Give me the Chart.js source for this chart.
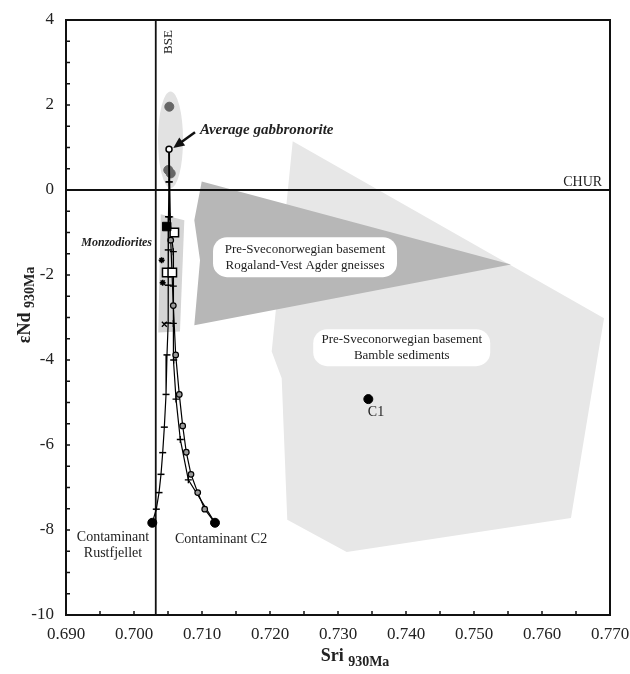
<!DOCTYPE html>
<html>
<head>
<meta charset="utf-8">
<script src="https://cdn.jsdelivr.net/npm/chart.js@4.4.0/dist/chart.umd.min.js"></script>
<style>
html, body { margin: 0; padding: 0; background: #fff; }
</style>
</head>
<body>
<canvas id="chart" width="630" height="674"></canvas>
<script>
'use strict';

// axis ticks
var xTicks = [0.690, 0.700, 0.710, 0.720, 0.730, 0.740, 0.750, 0.760, 0.770];
var yTicks = [-10, -8, -6, -4, -2, 0, 2, 4];

// reference lines
var churNd = 0;
var bseSr = 0.7032;

// mixing curve towards contaminant Rustfjellet
var rustSr = [0.70515, 0.70515, 0.70507, 0.70504, 0.70504, 0.70500, 0.70485, 0.70471, 0.70446, 0.70422, 0.70397, 0.70368, 0.70328, 0.70269];
var rustNd = [0.96, 0.19, -0.63, -1.41, -2.24, -3.13, -3.88, -4.81, -5.58, -6.18, -6.69, -7.12, -7.51, -7.83];

// mixing curves towards contaminant C2
var c2CircSr = [0.70515, 0.70540, 0.70578, 0.70613, 0.70666, 0.70716, 0.70769, 0.70838, 0.70937, 0.71040, 0.71191];
var c2CircNd = [0.96, -1.18, -2.72, -3.88, -4.81, -5.55, -6.17, -6.69, -7.12, -7.51, -7.83];
var c2CrossSr = [0.70515, 0.70518, 0.70525, 0.70578, 0.70578, 0.70578, 0.70584, 0.70618, 0.70681, 0.70799, 0.71191];
var c2CrossNd = [0.96, 0.19, -0.63, -1.45, -2.26, -3.14, -4.00, -4.92, -5.87, -6.82, -7.83];

// samples
var gabbroSr = [0.70519, 0.70504, 0.70540];
var gabbroNd = [1.96, 0.47, 0.39];
var avgGabbroSr = [0.70515];
var avgGabbroNd = [0.96];
var monzoFilledSr = [0.70481];
var monzoFilledNd = [-0.86];
var monzoOpenSr = [0.70593, 0.70481, 0.70563];
var monzoOpenNd = [-1.00, -1.94, -1.94];
var monzoStarSr = [0.70407, 0.70422];
var monzoStarNd = [-1.65, -2.18];
var monzoXSr = [0.70446];
var monzoXNd = [-3.16];

// contaminants
var contamSr = [0.70269, 0.71191, 0.73446];
var contamNd = [-7.83, -7.83, -4.92];

// fields
var bambleSr = [0.72334, 0.76912, 0.76426, 0.73128, 0.72254, 0.72172, 0.72025, 0.72334];
var bambleNd = [1.15, -3.02, -7.72, -8.52, -7.76, -4.43, -3.80, 1.15];
var rogalandSr = [0.70996, 0.75544, 0.70887, 0.70971, 0.70887, 0.70996];
var rogalandNd = [0.20, -1.75, -3.18, -1.65, -0.71, 0.20];
var monzoFieldSr = [0.70393, 0.70740, 0.70676, 0.70357, 0.70393];
var monzoFieldNd = [-0.57, -0.71, -3.33, -3.35, -0.57];
var gabbroFieldSr = 0.70537, gabbroFieldNd = 1.18, gabbroFieldRSr = 0.00184, gabbroFieldRNd = 1.14;

function pts(xs, ys) {
    return xs.map(function(x, i) { return { x: x, y: ys[i] }; });
}

var SERIF = '"Liberation Serif", "Times New Roman", serif';
Chart.defaults.font.family = SERIF;
Chart.defaults.color = '#222';

function endsHidden(r) {
    return function(ctx) {
        var n = ctx.dataset.data.length;
        return (ctx.dataIndex === 0 || ctx.dataIndex === n - 1) ? 0 : r;
    };
}

function roundRect(ctx, x, y, w, h, r) {
    ctx.beginPath();
    ctx.moveTo(x + r, y);
    ctx.lineTo(x + w - r, y);
    ctx.arcTo(x + w, y, x + w, y + r, r);
    ctx.lineTo(x + w, y + h - r);
    ctx.arcTo(x + w, y + h, x + w - r, y + h, r);
    ctx.lineTo(x + r, y + h);
    ctx.arcTo(x, y + h, x, y + h - r, r);
    ctx.lineTo(x, y + r);
    ctx.arcTo(x, y, x + r, y, r);
    ctx.closePath();
}

var overlay = {
    id: 'overlay',
    beforeDatasetsDraw: function(chart) {
        var sx = chart.scales.x, sy = chart.scales.y, ctx = chart.ctx;
        var cx = sx.getPixelForValue(gabbroFieldSr), cy = sy.getPixelForValue(gabbroFieldNd);
        var rx = Math.abs(sx.getPixelForValue(gabbroFieldSr + gabbroFieldRSr) - cx);
        var ry = Math.abs(sy.getPixelForValue(gabbroFieldNd + gabbroFieldRNd) - cy);
        ctx.save();
        ctx.fillStyle = '#e2e2e2';
        ctx.beginPath();
        ctx.ellipse(cx, cy, rx, ry, 0, 0, Math.PI * 2);
        ctx.fill();
        ctx.restore();
    },
    afterDatasetsDraw: function(chart) {
        var sx = chart.scales.x, sy = chart.scales.y, ctx = chart.ctx;
        var a = chart.chartArea;
        var px = function(v) { return sx.getPixelForValue(v); };
        var py = function(v) { return sy.getPixelForValue(v); };
        ctx.save();

        // frame
        ctx.strokeStyle = '#111';
        ctx.lineWidth = 2;
        ctx.strokeRect(a.left, a.top, a.right - a.left, a.bottom - a.top);

        // inward minor ticks
        ctx.lineWidth = 1.5;
        ctx.beginPath();
        for (var i = 1; i < 16; i++) {
            var tx = px(0.690 + i * 0.005);
            ctx.moveTo(tx, a.bottom); ctx.lineTo(tx, a.bottom - 4);
        }
        for (var j = 1; j < 28; j++) {
            var ty = py(-10 + j * 0.5);
            ctx.moveTo(a.left, ty); ctx.lineTo(a.left + 4, ty);
        }
        ctx.stroke();

        // field labels in rounded white boxes
        ctx.font = '13px ' + SERIF;
        ctx.textAlign = 'center';
        ctx.textBaseline = 'middle';
        [
            { sr: 0.72515, nd: -1.58, w: 184, h: 40, lines: ['Pre-Sveconorwegian basement', 'Rogaland-Vest Agder gneisses'] },
            { sr: 0.73937, nd: -3.71, w: 177, h: 37, lines: ['Pre-Sveconorwegian basement', 'Bamble sediments'] }
        ].forEach(function(b) {
            var cx = px(b.sr), cy = py(b.nd);
            ctx.fillStyle = '#fff';
            roundRect(ctx, cx - b.w / 2, cy - b.h / 2, b.w, b.h, 14);
            ctx.fill();
            ctx.fillStyle = '#222';
            ctx.fillText(b.lines[0], cx, cy - 8);
            ctx.fillText(b.lines[1], cx, cy + 8);
        });

        // plain labels
        ctx.font = '14px ' + SERIF;
        ctx.fillText('C1', px(0.73559), py(-5.24));
        ctx.fillText('Contaminant', px(0.69691), py(-8.17));
        ctx.fillText('Rustfjellet', px(0.69691), py(-8.56));
        ctx.textAlign = 'left';
        ctx.fillText('Contaminant C2', px(0.70603), py(-8.22));
        ctx.textAlign = 'right';
        ctx.textBaseline = 'alphabetic';
        ctx.fillText('CHUR', px(0.76885), py(0.1));

        // BSE, vertical
        ctx.save();
        ctx.translate(px(0.70565), py(3.48));
        ctx.rotate(-Math.PI / 2);
        ctx.textAlign = 'center';
        ctx.font = '13px ' + SERIF;
        ctx.fillText('BSE', 0, 0);
        ctx.restore();

        // italic annotations
        ctx.font = 'italic bold 15px ' + SERIF;
        ctx.textAlign = 'left';
        ctx.textBaseline = 'middle';
        ctx.fillText('Average gabbronorite', px(0.70971), py(1.41));
        ctx.font = 'italic bold 12px ' + SERIF;
        ctx.textAlign = 'right';
        ctx.fillText('Monzodiorites', px(0.70265), py(-1.24));

        // arrow to average gabbronorite
        var x0 = px(0.70897), y0 = py(1.36), x1 = px(0.70578), y1 = py(0.99);
        var ang = Math.atan2(y1 - y0, x1 - x0);
        ctx.strokeStyle = '#111';
        ctx.fillStyle = '#111';
        ctx.lineWidth = 2.5;
        ctx.beginPath();
        ctx.moveTo(x0, y0);
        ctx.lineTo(x1 - 8 * Math.cos(ang), y1 - 8 * Math.sin(ang));
        ctx.stroke();
        ctx.beginPath();
        ctx.moveTo(x1, y1);
        ctx.lineTo(x1 - 11 * Math.cos(ang) + 5 * Math.sin(ang), y1 - 11 * Math.sin(ang) - 5 * Math.cos(ang));
        ctx.lineTo(x1 - 11 * Math.cos(ang) - 5 * Math.sin(ang), y1 - 11 * Math.sin(ang) + 5 * Math.cos(ang));
        ctx.closePath();
        ctx.fill();

        // axis titles
        ctx.fillStyle = '#222';
        ctx.textAlign = 'left';
        ctx.textBaseline = 'alphabetic';
        ctx.font = 'bold 18px ' + SERIF;
        var w1 = ctx.measureText('Sri ').width;
        ctx.font = 'bold 14px ' + SERIF;
        var w2 = ctx.measureText('930Ma').width;
        var startX = 355 - (w1 + w2) / 2;
        ctx.font = 'bold 18px ' + SERIF;
        ctx.fillText('Sri ', startX, 661);
        ctx.font = 'bold 14px ' + SERIF;
        ctx.fillText('930Ma', startX + w1, 666);

        ctx.translate(30, 305);
        ctx.rotate(-Math.PI / 2);
        ctx.font = 'bold 18px ' + SERIF;
        var v1 = ctx.measureText('\u03b5Nd ').width;
        ctx.font = 'bold 14px ' + SERIF;
        var v2 = ctx.measureText('930Ma').width;
        var sY = -(v1 + v2) / 2;
        ctx.font = 'bold 18px ' + SERIF;
        ctx.fillText('\u03b5Nd ', sY, 0);
        ctx.font = 'bold 14px ' + SERIF;
        ctx.fillText('930Ma', sY + v1, 4);
        ctx.restore();
    }
};

var chart = new Chart(document.getElementById('chart').getContext('2d'), {
    type: 'line',
    data: {
        datasets: [
            { data: pts(contamSr, contamNd), showLine: false, pointRadius: 4.5, pointBackgroundColor: '#000', pointBorderColor: '#000', order: 0 },
            { data: pts(avgGabbroSr, avgGabbroNd), showLine: false, pointRadius: 3, pointBackgroundColor: '#fff', pointBorderColor: '#000', pointBorderWidth: 1.5, order: 0 },
            { data: pts(monzoFilledSr, monzoFilledNd), showLine: false, pointStyle: 'rect', pointRadius: 6, pointBackgroundColor: '#000', pointBorderColor: '#000', order: 1 },
            { data: pts(monzoOpenSr, monzoOpenNd), showLine: false, pointStyle: 'rect', pointRadius: 6, pointBackgroundColor: '#fff', pointBorderColor: '#000', pointBorderWidth: 1.5, order: 1 },
            { data: pts(monzoStarSr, monzoStarNd), showLine: false, pointStyle: 'star', pointRadius: 3, pointBorderColor: '#000', pointBorderWidth: 1.5, order: 1 },
            { data: pts(monzoXSr, monzoXNd), showLine: false, pointStyle: 'crossRot', pointRadius: 3.5, pointBorderColor: '#000', pointBorderWidth: 1.3, order: 1 },
            { data: pts(rustSr, rustNd), borderColor: '#000', borderWidth: 1.2, tension: 0, fill: false, pointStyle: 'line', pointRadius: endsHidden(3.5), pointBorderColor: '#000', pointBorderWidth: 1.5, order: 2 },
            { data: pts(c2CircSr, c2CircNd), borderColor: '#000', borderWidth: 1.2, tension: 0, fill: false, pointStyle: 'circle', pointRadius: endsHidden(2.8), pointBackgroundColor: '#9a9a9a', pointBorderColor: '#000', pointBorderWidth: 1.2, order: 2 },
            { data: pts(c2CrossSr, c2CrossNd), borderColor: '#000', borderWidth: 1.2, tension: 0, fill: false, pointStyle: 'cross', pointRadius: endsHidden(3.5), pointBorderColor: '#000', pointBorderWidth: 1.3, order: 2 },
            { data: pts(gabbroSr, gabbroNd), showLine: false, pointRadius: 4.5, pointBackgroundColor: '#666', pointBorderColor: '#666', order: 3 },
            { data: [{ x: 0.690, y: churNd }, { x: 0.770, y: churNd }], borderColor: '#111', borderWidth: 1.8, pointRadius: 0, fill: false, order: 4 },
            { data: [{ x: bseSr, y: -10 }, { x: bseSr, y: 4 }], borderColor: '#111', borderWidth: 1.8, pointRadius: 0, fill: false, order: 4 },
            { data: pts(monzoFieldSr, monzoFieldNd), borderWidth: 0, borderColor: 'rgba(0,0,0,0)', backgroundColor: '#d5d5d5', fill: 'shape', pointRadius: 0, tension: 0, order: 5 },
            { data: pts(rogalandSr, rogalandNd), borderWidth: 0, borderColor: 'rgba(0,0,0,0)', backgroundColor: '#b7b7b7', fill: 'shape', pointRadius: 0, tension: 0, order: 6 },
            { data: pts(bambleSr, bambleNd), borderWidth: 0, borderColor: 'rgba(0,0,0,0)', backgroundColor: '#e7e7e7', fill: 'shape', pointRadius: 0, tension: 0, order: 7 }
        ]
    },
    options: {
        responsive: false,
        animation: false,
        events: [],
        layout: { padding: { top: 20, right: 20, left: 0, bottom: 0 } },
        plugins: { legend: { display: false }, tooltip: { enabled: false } },
        scales: {
            x: {
                type: 'linear',
                min: 0.690, max: 0.770,
                grid: { display: false, drawTicks: false },
                border: { display: false },
                afterBuildTicks: function(s) { s.ticks = xTicks.map(function(v) { return { value: v }; }); },
                afterFit: function(s) { s.height = 59; s.paddingLeft = 0; s.paddingRight = 0; },
                ticks: {
                    padding: 9,
                    maxRotation: 0,
                    font: { size: 17 },
                    color: '#222',
                    callback: function(v) { return v.toFixed(3); }
                }
            },
            y: {
                type: 'linear',
                min: -10, max: 4,
                grid: { display: false, drawTicks: false },
                border: { display: false },
                afterBuildTicks: function(s) { s.ticks = yTicks.map(function(v) { return { value: v }; }); },
                afterFit: function(s) { s.width = 66; s.paddingTop = 0; s.paddingBottom = 0; },
                ticks: {
                    padding: 12,
                    font: { size: 17 },
                    color: '#222',
                    callback: function(v) { return String(v); }
                }
            }
        }
    },
    plugins: [overlay]
});
</script>
</body>
</html>
